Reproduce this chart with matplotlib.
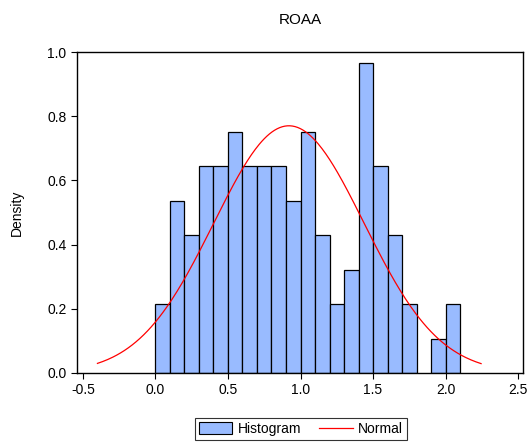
import numpy as np
import matplotlib
matplotlib.use("Agg")
import matplotlib.pyplot as plt
from matplotlib.patches import Patch
from matplotlib.lines import Line2D

plt.rcParams['font.family'] = ['Liberation Sans', 'DejaVu Sans']

# histogram bins (left edges) and densities
bin_left = [0.0, 0.1, 0.2, 0.3, 0.4, 0.5, 0.6, 0.7, 0.8, 0.9, 1.0,
            1.1, 1.2, 1.3, 1.4, 1.5, 1.6, 1.7, 1.8, 1.9, 2.0]
density = [0.215, 0.537, 0.430, 0.645, 0.645, 0.752, 0.645, 0.645, 0.645, 0.537, 0.752,
           0.430, 0.215, 0.322, 0.967, 0.645, 0.430, 0.215, 0.0, 0.107, 0.215]
bin_width = 0.1

# fitted normal curve
norm_mean = 0.92
norm_sd = 0.518
curve_from, curve_to = -0.40, 2.245

xticks = [-0.5, 0.0, 0.5, 1.0, 1.5, 2.0, 2.5]
yticks = [0.0, 0.2, 0.4, 0.6, 0.8, 1.0]

fig = plt.figure(figsize=(5.31, 4.43), dpi=100)
ax = fig.add_axes([77 / 531, 1 - 373 / 443, (523 - 77) / 531, (373 - 52) / 443])

heights = np.array(density)
lefts = np.array(bin_left)
keep = heights > 0
ax.bar(lefts[keep], heights[keep], width=bin_width, align='edge',
       color='#99BBFF', edgecolor='black', linewidth=0.9)

xs = np.linspace(curve_from, curve_to, 300)
ys = np.exp(-0.5 * ((xs - norm_mean) / norm_sd) ** 2) / (norm_sd * np.sqrt(2 * np.pi))
ax.plot(xs, ys, color='red', linewidth=0.9)

ax.set_xlim(-0.541, 2.534)
ax.set_ylim(0, 1.0)
ax.set_xticks(xticks)
ax.set_yticks(yticks)
ax.set_xticklabels([f"{t:.1f}" for t in xticks])
ax.set_yticklabels([f"{t:.1f}" for t in yticks])
ax.tick_params(direction='out', length=4, labelsize=10)
for s in ax.spines.values():
    s.set_linewidth(1.0)

ax.set_title("ROAA", fontsize=11, pad=20)
ax.set_ylabel("Density", fontsize=10, labelpad=17)

handles = [Patch(facecolor='#99BBFF', edgecolor='black', linewidth=0.8),
           Line2D([0], [0], color='red', linewidth=0.9)]
leg = fig.legend(handles, ["Histogram", "Normal"], loc='center',
                 bbox_to_anchor=(301 / 531, 1 - 429 / 443), ncol=2, fontsize=10,
                 fancybox=False, frameon=True, edgecolor='black',
                 handlelength=2.4, handleheight=0.9, columnspacing=1.3,
                 borderpad=0.3, handletextpad=0.4)
leg.get_frame().set_linewidth(0.8)

fig.savefig("out.png", dpi=100)
